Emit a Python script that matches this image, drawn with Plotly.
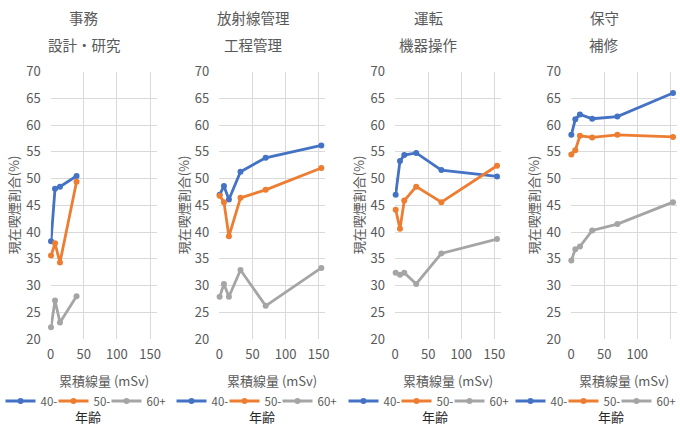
import plotly.graph_objects as go

# Occupational groups (two-line panel titles)
panel_titles = [("事務", "設計・研究"), ("放射線管理", "工程管理"),
                ("運転", "機器操作"), ("保守", "補修")]

# Cumulative dose (mSv) at each dose group, per panel
dose_office = [0.5, 6.5, 14, 39]
dose_radmgmt = [0.5, 7, 14.5, 32, 70, 154]
dose_operation = [1, 7.5, 14, 32, 70, 154]
dose_maintenance = [0.5, 6.5, 13.5, 32, 70, 154]

# Current smoking prevalence (%) by age group
office_40 = [38.3, 48.1, 48.5, 50.5]
office_50 = [35.6, 37.9, 34.3, 49.4]
office_60 = [22.2, 27.2, 23.1, 28.0]

radmgmt_40 = [47.0, 48.6, 46.1, 51.3, 53.9, 56.2]
radmgmt_50 = [46.8, 45.6, 39.2, 46.4, 47.9, 52.0]
radmgmt_60 = [27.9, 30.3, 27.9, 32.9, 26.2, 33.3]

operation_40 = [47.0, 53.3, 54.4, 54.8, 51.6, 50.4]
operation_50 = [44.2, 40.6, 45.9, 48.5, 45.6, 52.4]
operation_60 = [32.4, 32.0, 32.4, 30.3, 36.0, 38.7]

maintenance_40 = [58.2, 61.1, 62.0, 61.2, 61.6, 66.0]
maintenance_50 = [54.5, 55.3, 58.0, 57.7, 58.2, 57.8]
maintenance_60 = [34.7, 36.8, 37.3, 40.3, 41.5, 45.6]

age_groups = ["40-", "50-", "60+"]
x_ticks = [0, 50, 100, 150]
y_ticks = [20, 25, 30, 35, 40, 45, 50, 55, 60, 65, 70]

panels = [
    (dose_office, [office_40, office_50, office_60]),
    (dose_radmgmt, [radmgmt_40, radmgmt_50, radmgmt_60]),
    (dose_operation, [operation_40, operation_50, operation_60]),
    (dose_maintenance, [maintenance_40, maintenance_50, maintenance_60]),
]

W, H = 680, 426
COLORS = ["#4472C4", "#ED7D31", "#A5A5A5"]
TEXT = "#595959"
GRID = "#D9D9D9"
FONT = "Noto Sans CJK JP"


def fx(px):
    return px / W


def fy(py):
    return 1 - py / H


# plot-area left edges (px) and layout helpers
plot_left = [50.7, 219.3, 395.0, 571.0]
plot_w = 106.0
plot_top, plot_bottom = 71.7, 339.0
title_cx = [84, 253, 428, 604]
ytitle_x = [13, 183, 358, 533]
legend_cx = [85, 256, 428, 595]
legend_title_cx = [88, 262, 435, 611]
# compact legend entries; the last entry gets room for its full label
entry_widths = [8, 8, 18]

fig = go.Figure()
annotations = []

for i, (xs, series) in enumerate(panels):
    n = i + 1
    suffix = "" if n == 1 else str(n)
    for j, ys in enumerate(series):
        fig.add_trace(go.Scatter(
            x=xs, y=ys, name=age_groups[j], mode="lines+markers",
            line=dict(color=COLORS[j], width=2.8),
            marker=dict(color=COLORS[j], size=6),
            xaxis="x" + suffix, yaxis="y" + suffix,
            legend="legend" + suffix, showlegend=True, cliponaxis=False,
            legendwidth=entry_widths[j],
        ))

    left = plot_left[i]
    fig.update_layout(**{
        "xaxis" + suffix: dict(
            domain=[fx(left), fx(left + plot_w)], anchor="y" + suffix,
            range=[0, 160], tickvals=x_ticks, showgrid=True, gridcolor=GRID,
            gridwidth=1, zeroline=False, showline=False, ticks="",
            tickfont=dict(family=FONT, size=13, color=TEXT),
            ticklabelstandoff=6, fixedrange=True,
        ),
        "yaxis" + suffix: dict(
            domain=[fy(plot_bottom), fy(plot_top)], anchor="x" + suffix,
            range=[20, 70], tickvals=y_ticks, showgrid=True, gridcolor=GRID,
            gridwidth=1, zeroline=False, showline=False, ticks="",
            tickfont=dict(family=FONT, size=13, color=TEXT),
            ticklabelstandoff=9, fixedrange=True,
        ),
    })

    cx = left + plot_w / 2
    t1, t2 = panel_titles[i]
    annotations += [
        dict(text=t1, x=fx(title_cx[i]), y=fy(18), xref="paper", yref="paper",
             showarrow=False, xanchor="center", yanchor="middle",
             font=dict(family=FONT, size=14.5, color=TEXT)),
        dict(text=t2, x=fx(title_cx[i]), y=fy(45), xref="paper", yref="paper",
             showarrow=False, xanchor="center", yanchor="middle",
             font=dict(family=FONT, size=14.5, color=TEXT)),
        dict(text="累積線量 (mSv)", x=fx(cx), y=fy(380), xref="paper",
             yref="paper", showarrow=False, xanchor="center", yanchor="middle",
             font=dict(family=FONT, size=13, color=TEXT)),
        dict(text="現在喫煙割合(%)", x=fx(ytitle_x[i]),
             y=fy((plot_top + plot_bottom) / 2), xref="paper", yref="paper",
             showarrow=False, textangle=-90, xanchor="center",
             yanchor="middle", font=dict(family=FONT, size=13, color=TEXT)),
        dict(text="年齢", x=fx(legend_title_cx[i]), y=fy(416), xref="paper",
             yref="paper", showarrow=False, xanchor="center",
             yanchor="middle", font=dict(family=FONT, size=13, color="#262626")),
    ]

    fig.update_layout(**{
        "legend" + suffix: dict(
            orientation="h", x=fx(legend_cx[i]), y=fy(401),
            xanchor="center", yanchor="middle",
            entrywidthmode="pixels",
            itemwidth=30, tracegroupgap=0,
            bgcolor="rgba(0,0,0,0)",
            font=dict(family=FONT, size=11.5, color=TEXT),
        )
    })

fig.update_layout(
    width=W, height=H,
    margin=dict(l=0, r=0, t=0, b=0, autoexpand=False),
    paper_bgcolor="white", plot_bgcolor="white",
    annotations=annotations,
    font=dict(family=FONT, color=TEXT),
)

fig.write_html("out.html")
